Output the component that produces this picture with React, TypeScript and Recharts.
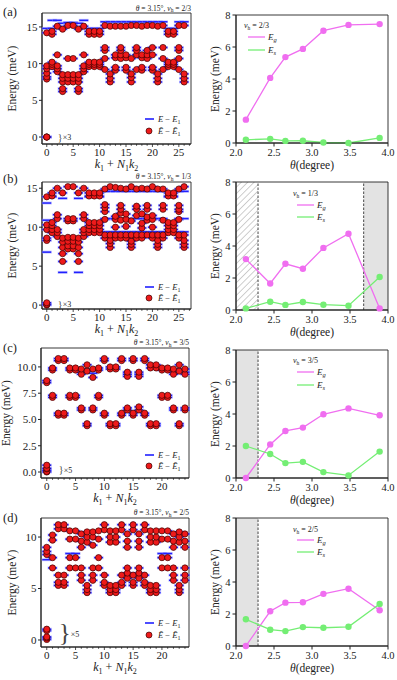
import React from 'react';
import {
  ScatterChart, Scatter, XAxis, YAxis, ReferenceArea, ReferenceDot, ReferenceLine, LineChart, Line,
} from 'recharts';

const FONT = '"Liberation Serif", "DejaVu Serif", serif';
const INK = '#222';
const BLUE = '#2020ff';
const RED = '#ee1a1a';
const MAGENTA = '#f06ef0';
const GREEN = '#74ee74';

// ---------- left column: spectra at theta = 3.15 deg (energies per momentum k1+N1k2) ----------
const specA: number[][] = [
  [0, 0, 0, 7.9, 8.2, 8.7, 9.3, 9.7, 14.2],
  [9.6, 9.9, 10.2, 14.0, 14.4],
  [8.9, 9.3, 9.7, 11.2, 15.1],
  [6.2, 6.6, 7.5, 8.0, 8.5, 14.7],
  [7.5, 8.0, 8.5, 10.7, 15.2],
  [7.5, 8.0, 8.5, 10.7, 15.2],
  [6.2, 6.6, 7.5, 8.0, 8.5, 14.7],
  [8.9, 9.3, 9.7, 11.2, 15.1],
  [9.6, 9.9, 10.2, 14.0, 14.4],
  [9.6, 9.9, 10.2, 14.0, 14.4],
  [9.6, 9.9, 10.2, 14.0, 14.4],
  [9.2, 10.7, 11.8, 12.2, 15.2],
  [7.5, 8.0, 8.6, 15.1],
  [9.1, 9.5, 10.8, 11.2, 15.1],
  [10.7, 11.2, 11.8, 12.2, 15.1],
  [9.1, 9.5, 10.8, 11.2, 15.1],
  [7.5, 8.1, 8.6, 10.7, 15.2],
  [9.2, 11.2, 11.8, 12.2, 15.2],
  [9.1, 9.5, 10.8, 11.2, 15.1],
  [10.7, 11.2, 11.8, 15.2],
  [9.1, 9.5, 11.2, 12.2, 15.2],
  [7.5, 8.0, 8.6, 15.1],
  [9.2, 10.7, 12.2, 15.2],
  [9.6, 9.9, 10.2, 14.0, 14.4],
  [9.6, 9.9, 10.2, 14.0, 14.4],
  [9.2, 10.7, 11.8, 12.2, 15.2],
  [7.5, 8.0, 8.6, 15.2],
];
const specABlueOnly: number[][] = [
  [14.8], [14.8, 15.9], [15.9], [15.5], [15.6], [15.6], [15.5], [15.9], [14.8], [14.8], [14.8],
  [15.7], [15.7], [15.7], [15.7], [15.7], [15.7], [15.7], [15.7], [15.7], [15.7], [15.7], [15.7],
  [14.8], [14.8], [15.7], [15.7],
];

const specB: number[][] = [
  [0, 0.1, 0.3, 8.3, 8.6, 9.7, 10.3, 13.9],
  [9.3, 9.7, 10.2, 10.6, 14.0, 14.4],
  [8.8, 9.3, 9.7, 11.1, 11.6, 15.0],
  [5.6, 6.6, 7.4, 8.1, 8.6, 14.4],
  [7.2, 7.6, 8.2, 8.7, 10.8, 11.1, 15.2],
  [7.2, 7.6, 8.2, 8.7, 10.8, 11.1, 15.2],
  [5.6, 6.6, 7.4, 8.1, 8.6, 14.4],
  [8.8, 9.3, 9.7, 11.1, 11.6, 15.0],
  [9.3, 9.7, 10.2, 10.6, 14.0, 14.4],
  [9.3, 9.7, 10.2, 10.6, 14.0, 14.4],
  [9.3, 9.7, 10.2, 10.6, 14.0, 14.4],
  [8.6, 9.0, 11.0, 12.0, 12.5, 12.9, 14.9],
  [7.4, 7.9, 8.3, 9.0, 15.2],
  [8.6, 9.0, 10.0, 11.0, 11.4, 15.1],
  [8.6, 9.0, 10.9, 11.8, 12.3, 12.8, 15.0],
  [8.6, 9.0, 10.1, 11.0, 11.7, 14.9],
  [7.4, 7.8, 8.2, 9.0, 10.8, 15.2],
  [8.6, 9.0, 11.5, 12.3, 12.7, 14.9],
  [8.6, 9.0, 9.9, 10.5, 11.7, 15.0],
  [9.0, 10.9, 11.3, 12.3, 12.8, 14.9],
  [8.6, 9.0, 10.0, 11.0, 11.5, 15.2],
  [7.4, 7.8, 8.3, 9.0, 14.9],
  [8.6, 9.0, 10.9, 12.3, 12.8, 14.9],
  [9.3, 9.7, 10.2, 10.6, 14.0, 14.4],
  [9.3, 9.7, 10.2, 10.6, 14.0, 14.4],
  [8.6, 9.0, 11.0, 12.0, 12.3, 12.8, 14.9],
  [7.4, 7.8, 8.3, 9.0, 15.2],
];
const specBBlueOnly: number[][] = [
  [6.8, 10.9, 13.1], [13.9], [], [4.2, 13.7], [], [], [4.2, 13.7], [], [13.9], [13.9], [13.9],
  [9.4, 11.1, 14.6], [9.4, 11.1, 14.6], [9.4, 11.1, 14.6], [9.4, 11.1, 14.6], [9.4, 11.1, 14.6],
  [9.4, 11.1, 14.6], [9.4, 11.1, 14.6], [9.4, 11.1, 14.6], [9.4, 11.1, 14.6], [9.4, 11.1, 14.6],
  [9.4, 11.1, 14.6], [9.4, 11.1, 14.6], [13.9], [13.9], [9.4, 11.1, 14.6], [9.4, 11.1, 14.6],
];

const specC: number[][] = [
  [0, 0.05, 0.3, 0.35, 0.65, 8.5, 8.7],
  [7.1, 7.3, 9.7, 9.9],
  [5.4, 5.6, 10.6, 10.8],
  [5.4, 5.6, 10.6, 10.8],
  [7.1, 7.3, 9.7, 9.9],
  [7.1, 7.3, 9.7, 9.9],
  [5.9, 6.1, 9.3, 9.8],
  [4.4, 4.6, 9.6, 10.2],
  [5.9, 6.1, 9.0, 9.8],
  [7.1, 7.3, 9.7, 9.9],
  [5.4, 5.6, 10.6, 10.8],
  [4.4, 4.6, 9.8, 10.0],
  [4.4, 4.6, 9.8, 10.0],
  [5.4, 5.6, 10.6, 10.8],
  [5.9, 6.1, 9.1, 9.5],
  [5.4, 5.6, 10.6, 10.8],
  [5.9, 6.2, 9.1, 9.5],
  [5.4, 5.6, 10.6, 10.8],
  [4.4, 4.6, 9.9, 10.2],
  [4.4, 4.6, 9.9, 10.2],
  [7.1, 7.3, 9.7, 9.9],
  [7.1, 7.3, 9.7, 9.9],
  [5.9, 6.1, 9.3, 9.8],
  [4.4, 4.6, 9.6, 10.2],
  [5.9, 6.1, 9.3, 9.8],
];
const specCBlueOnly: number[][] = [
  [0.15], [], [], [], [], [], [9.5], [], [9.4], [], [], [], [], [], [9.3], [], [9.3], [], [], [], [], [], [9.5], [], [9.5],
];

const specD: number[][] = [
  [0.05, 0.2, 0.3, 0.9, 1.05, 8.3, 8.6, 9.0],
  [7.0, 8.0, 9.7, 10.2],
  [5.3, 5.6, 6.3, 10.8, 11.2],
  [5.3, 5.6, 6.3, 10.8, 11.2],
  [7.0, 8.0, 9.8, 10.6],
  [7.0, 8.0, 9.8, 10.6],
  [5.8, 6.3, 7.0, 9.0, 9.6, 10.3],
  [4.6, 4.9, 5.3, 9.5, 10.0, 10.5],
  [5.8, 6.3, 7.0, 9.2, 10.0, 10.5],
  [7.0, 8.0, 9.8, 10.6],
  [5.3, 5.6, 6.3, 10.7, 11.2],
  [4.6, 4.9, 5.3, 9.5, 10.0, 10.6],
  [4.6, 4.9, 5.3, 9.5, 10.0, 10.6],
  [5.3, 5.6, 6.3, 10.7, 11.2],
  [6.0, 6.5, 7.0, 9.0, 9.6, 10.3],
  [5.3, 5.6, 6.3, 10.7, 11.2],
  [6.0, 6.5, 7.0, 9.0, 9.6, 10.3],
  [5.3, 5.6, 6.3, 10.7, 11.2],
  [4.6, 4.9, 5.3, 9.5, 10.0, 10.6],
  [4.6, 4.9, 5.3, 9.5, 10.0, 10.6],
  [7.0, 8.0, 9.8, 10.6],
  [7.0, 8.0, 9.8, 10.6],
  [5.8, 6.3, 7.0, 9.0, 9.6, 10.3],
  [4.6, 4.9, 5.3, 9.5, 10.0, 10.5],
  [5.8, 6.3, 7.0, 9.0, 9.6, 10.3],
];
const specDBlueOnly: number[][] = [
  [7.8], [], [], [], [8.4], [8.4], [], [], [], [], [], [], [], [], [], [], [], [], [], [], [8.4], [8.4], [], [], [],
];

// ---------- right column: gaps versus twist angle ----------
const thetaDeg = [2.13, 2.45, 2.65, 2.88, 3.15, 3.48, 3.89];
const egA = [1.46, 4.07, 5.37, 5.88, 7.02, 7.38, 7.43];
const esA = [0.2, 0.26, 0.13, 0.14, 0.03, 0.0, 0.32];
const egB = [3.18, 1.66, 2.89, 2.58, 3.88, 4.77, 0.1];
const esB = [0.1, 0.52, 0.32, 0.5, 0.33, 0.27, 2.06];
const egC = [0.0, 2.1, 2.94, 3.15, 3.98, 4.35, 3.92];
const esC = [2.0, 1.5, 0.93, 1.01, 0.37, 0.16, 1.65];
const egD = [0.0, 2.17, 2.71, 2.73, 3.26, 3.58, 2.23];
const esD = [1.67, 1.02, 0.93, 1.18, 1.14, 1.2, 2.63];

const thetaTicks = [2, 2.5, 3, 3.5, 4];
const gapTicks = [0, 2, 4, 6, 8];

type Pt = { k: number; e: number };
const flatten = (lv: number[][]): Pt[] => {
  const out: Pt[] = [];
  lv.forEach((arr, k) => arr.forEach((e) => out.push({ k, e })));
  return out;
};

const Dash = (p: any) => (
  <g>
    <line x1={p.cx - 5} x2={p.cx + 5} y1={p.cy} y2={p.cy} stroke="#9a9aff" strokeWidth={3} strokeOpacity={0.55} />
    <line x1={p.cx - 4.5} x2={p.cx + 4.5} y1={p.cy} y2={p.cy} stroke={BLUE} strokeWidth={1.5} />
  </g>
);
const Dot = (p: any) => (
  <circle cx={p.cx} cy={p.cy} r={3.1} fill={RED} stroke="#3a0000" strokeWidth={0.7} />
);

const makeKTick = (every: number) => (p: any) => {
  const v = p.payload.value;
  const major = v % every === 0;
  return (
    <g>
      <line x1={p.x} x2={p.x} y1={p.y} y2={p.y + (major ? 3 : 1.8)} stroke={INK} strokeWidth={0.8} />
      {major ? (
        <text x={p.x} y={p.y + 12} textAnchor="middle" fontSize={11} fontFamily={FONT} fill={INK}>{v}</text>
      ) : null}
    </g>
  );
};

const kLabel = (props: any) => {
  const vb = props.viewBox;
  const x = vb.x + vb.width / 2;
  const y = vb.y + 24;
  return (
    <text x={x} y={y} textAnchor="middle" fontFamily={FONT} fontSize={12} fill={INK}>
      <tspan fontStyle="italic">k</tspan>
      <tspan fontSize={8} dy={2.5}>1</tspan>
      <tspan dy={-2.5}> + </tspan>
      <tspan fontStyle="italic">N</tspan>
      <tspan fontSize={8} dy={2.5}>1</tspan>
      <tspan fontStyle="italic" dy={-2.5}>k</tspan>
      <tspan fontSize={8} dy={2.5}>2</tspan>
    </text>
  );
};

const thetaLabel = (props: any) => {
  const vb = props.viewBox;
  const x = vb.x + vb.width / 2;
  const y = vb.y + 25.5;
  return (
    <text x={x} y={y} textAnchor="middle" fontFamily={FONT} fontSize={11.5} fill={INK}>
      <tspan fontStyle="italic">θ</tspan>
      <tspan>(degree)</tspan>
    </text>
  );
};

const energyLabel = (cx: number) => (props: any) => {
  const vb = props.viewBox;
  const x = vb.x + cx;
  const y = vb.y + vb.height / 2;
  return (
    <text x={x} y={y} transform={`rotate(-90 ${x} ${y})`} textAnchor="middle" dominantBaseline="central"
      fontFamily={FONT} fontSize={11.5} fill={INK}>
      Energy (meV)
    </text>
  );
};

const makeAnnot = (mult: string, tall: boolean) => (p: any) => (
  <g>
    <text x={p.cx} y={p.cy + (tall ? 7 : 3.5)} fontSize={tall ? 25 : 10} fontFamily={FONT} fill="#444">{'}'}</text>
    <text x={p.cx + (tall ? 12 : 5)} y={p.cy + 3} fontSize={8} fontFamily={FONT} fill={INK}>{'×' + mult}</text>
  </g>
);

type SpecProps = {
  y0: number; y1: number; x0: number; x1: number;
  xDomain: [number, number]; yDomain: [number, number];
  yTicks: number[]; yFmt: (v: number) => string;
  levels: number[][]; blueOnly: number[][];
  yLabelX: number; mult: string; tall: boolean; braceK: number; braceE: number;
};

function SpectrumPanel(p: SpecProps) {
  const H = p.y1 - p.y0 + 10 + 38;
  const red = flatten(p.levels);
  const blue = [...red, ...flatten(p.blueOnly)];
  const kTicks: number[] = [];
  for (let i = 0; i <= Math.floor(p.xDomain[1]); i++) kTicks.push(i);
  return (
    <div style={{ position: 'absolute', left: 0, top: p.y0 - 10, width: 200, height: H }}>
      <ScatterChart width={200} height={H} margin={{ top: 10, right: 200 - p.x1, bottom: 0, left: 0 }}>
        <XAxis type="number" dataKey="k" domain={p.xDomain} ticks={kTicks} interval={0}
          tickSize={0} tickMargin={0} tickLine={false} tick={makeKTick(5)}
          axisLine={{ stroke: INK }} height={38} label={kLabel} />
        <YAxis type="number" dataKey="e" domain={p.yDomain} ticks={p.yTicks} interval={0}
          tickFormatter={p.yFmt} width={p.x0} tickSize={3} tickMargin={1.5}
          tick={{ fontSize: 11, fontFamily: FONT, fill: INK }} axisLine={{ stroke: INK }}
          tickLine={{ stroke: INK }} label={energyLabel(p.yLabelX)} />
        <Scatter data={blue} shape={Dash} isAnimationActive={false} />
        <Scatter data={red} shape={Dot} isAnimationActive={false} />
        <ReferenceDot x={p.braceK} y={p.braceE} r={0} shape={makeAnnot(p.mult, p.tall)} />
        <ReferenceArea x1={p.xDomain[0]} x2={p.xDomain[1]} y1={p.yDomain[0]} y2={p.yDomain[1]}
          fill="none" fillOpacity={0} stroke={INK} strokeWidth={0.9} />
      </ScatterChart>
    </div>
  );
}

type Shade = { x1: number; x2: number; hatch: boolean };
type GapProps = { y0: number; y1: number; eg: number[]; es: number[]; shades: Shade[]; cuts: number[] };

function GapPanel(p: GapProps) {
  const H = p.y1 - p.y0 + 10 + 38;
  const data = thetaDeg.map((t, i) => ({ theta: t, eg: p.eg[i], es: p.es[i] }));
  return (
    <div style={{ position: 'absolute', left: 200, top: p.y0 - 10, width: 197, height: H }}>
      <LineChart width={197} height={H} data={data} margin={{ top: 10, right: 9, bottom: 0, left: 0 }}>
        {p.shades.map((s, i) => (
          <ReferenceArea key={'s' + i} x1={s.x1} x2={s.x2} y1={0} y2={8}
            fill={s.hatch ? 'url(#hatch)' : '#e3e3e3'} fillOpacity={1} stroke="none" />
        ))}
        {p.cuts.map((c, i) => (
          <ReferenceLine key={'c' + i} x={c} stroke="#333" strokeDasharray="2.5 1.5" strokeWidth={0.9} />
        ))}
        <XAxis type="number" dataKey="theta" domain={[2, 4]} ticks={thetaTicks} interval={0}
          tickFormatter={(v: number) => v.toFixed(1)} height={38} tickSize={3.5} tickMargin={2.5}
          tick={{ fontSize: 10.5, fontFamily: FONT, fill: INK }} axisLine={{ stroke: INK }}
          tickLine={{ stroke: INK }} label={thetaLabel} />
        <YAxis type="number" domain={[0, 8]} ticks={gapTicks} interval={0} width={36}
          tickSize={3.5} tickMargin={2} tick={{ fontSize: 10.5, fontFamily: FONT, fill: INK }}
          axisLine={{ stroke: INK }} tickLine={{ stroke: INK }} label={energyLabel(15)} />
        <Line type="linear" dataKey="eg" stroke={MAGENTA} strokeWidth={1.3}
          dot={{ r: 3.2, fill: MAGENTA, stroke: MAGENTA, strokeWidth: 0 }} isAnimationActive={false} />
        <Line type="linear" dataKey="es" stroke={GREEN} strokeWidth={1.3}
          dot={{ r: 3.2, fill: GREEN, stroke: GREEN, strokeWidth: 0 }} isAnimationActive={false} />
        <ReferenceArea x1={2} x2={4} y1={0} y2={8} fill="none" fillOpacity={0} stroke={INK} strokeWidth={0.9} />
      </LineChart>
    </div>
  );
}

const T = { fontFamily: FONT, fill: INK } as const;

function Title({ x, y, nu }: { x: number; y: number; nu: string }) {
  return (
    <text x={x} y={y} textAnchor="end" fontSize={7.5} {...T}>
      <tspan fontStyle="italic">θ</tspan>
      <tspan> = 3.15°, </tspan>
      <tspan fontStyle="italic">ν</tspan>
      <tspan fontSize={5.5} dy={1.5}>h</tspan>
      <tspan dy={-1.5}>{' = ' + nu}</tspan>
    </text>
  );
}

function LeftLegend({ yb, yr }: { yb: number; yr: number }) {
  return (
    <g>
      <line x1={145} x2={154} y1={yb} y2={yb} stroke={BLUE} strokeWidth={1.6} />
      <text x={158} y={yb + 3} fontSize={8.5} {...T}>
        <tspan fontStyle="italic">E</tspan>
        <tspan> − </tspan>
        <tspan fontStyle="italic">E</tspan>
        <tspan fontSize={6} dy={1.5}>1</tspan>
      </text>
      <circle cx={149} cy={yr} r={3} fill={RED} stroke="#3a0000" strokeWidth={0.7} />
      <text x={158} y={yr + 3} fontSize={8.5} {...T}>
        <tspan fontStyle="italic">Ẽ</tspan>
        <tspan> − </tspan>
        <tspan fontStyle="italic">Ẽ</tspan>
        <tspan fontSize={6} dy={1.5}>1</tspan>
      </text>
    </g>
  );
}

function RightLegend({ x, yn, yg, ys, nu }: { x: number; yn: number; yg: number; ys: number; nu: string }) {
  return (
    <g>
      <text x={x - 4} y={yn + 3} fontSize={8} {...T}>
        <tspan fontStyle="italic">ν</tspan>
        <tspan fontSize={5.5} dy={1.5}>h</tspan>
        <tspan dy={-1.5}>{' = ' + nu}</tspan>
      </text>
      <line x1={x} x2={x + 17} y1={yg} y2={yg} stroke={MAGENTA} strokeWidth={1.3} />
      <text x={x + 20} y={yg + 3} fontSize={9} {...T}>
        <tspan fontStyle="italic">E</tspan>
        <tspan fontSize={6.5} fontStyle="italic" dy={2}>g</tspan>
      </text>
      <line x1={x} x2={x + 17} y1={ys} y2={ys} stroke={GREEN} strokeWidth={1.3} />
      <text x={x + 20} y={ys + 3} fontSize={9} {...T}>
        <tspan fontStyle="italic">E</tspan>
        <tspan fontSize={6.5} fontStyle="italic" dy={2}>s</tspan>
      </text>
    </g>
  );
}

const int0 = (v: number) => String(v);
const fix1 = (v: number) => v.toFixed(1);

export default function App() {
  return (
    <div style={{ position: 'absolute', left: 0, top: 0, width: 397, height: 680, background: '#fff', overflow: 'hidden' }}>
      <svg width={0} height={0} style={{ position: 'absolute' }}>
        <defs>
          <pattern id="hatch" patternUnits="userSpaceOnUse" width={4.5} height={4.5} patternTransform="rotate(45)">
            <rect width={4.5} height={4.5} fill="#fff" />
            <line x1={0} y1={0} x2={0} y2={4.5} stroke="#a8a8a8" strokeWidth={1.1} />
          </pattern>
        </defs>
      </svg>

      <SpectrumPanel y0={13} y1={144} x0={42} x1={191} xDomain={[-0.9, 27.3]} yDomain={[-0.95, 16.9]}
        yTicks={[0, 5, 10, 15]} yFmt={int0} levels={specA} blueOnly={specABlueOnly}
        yLabelX={12} mult="3" tall={false} braceK={2.1} braceE={0} />
      <SpectrumPanel y0={182} y1={309} x0={42} x1={191} xDomain={[-0.9, 27.3]} yDomain={[-0.5, 15.8]}
        yTicks={[0, 5, 10, 15]} yFmt={int0} levels={specB} blueOnly={specBBlueOnly}
        yLabelX={12} mult="3" tall={false} braceK={2.1} braceE={0.1} />
      <SpectrumPanel y0={348} y1={478} x0={41} x1={189} xDomain={[-1, 24.7]} yDomain={[-0.57, 11.8]}
        yTicks={[0, 2.5, 5, 7.5, 10]} yFmt={fix1} levels={specC} blueOnly={specCBlueOnly}
        yLabelX={6} mult="5" tall={false} braceK={2.1} braceE={0.2} />
      <SpectrumPanel y0={518} y1={647} x0={41} x1={189} xDomain={[-1, 24.7]} yDomain={[-0.68, 11.85]}
        yTicks={[0, 5, 10]} yFmt={int0} levels={specD} blueOnly={specDBlueOnly}
        yLabelX={12} mult="5" tall={true} braceK={2.1} braceE={0.6} />

      <GapPanel y0={15} y1={143} eg={egA} es={esA} shades={[]} cuts={[]} />
      <GapPanel y0={182} y1={310} eg={egB} es={esB}
        shades={[{ x1: 2, x2: 2.29, hatch: true }, { x1: 3.68, x2: 4, hatch: false }]} cuts={[2.29, 3.68]} />
      <GapPanel y0={350} y1={478} eg={egC} es={esC} shades={[{ x1: 2, x2: 2.29, hatch: false }]} cuts={[2.29]} />
      <GapPanel y0={518} y1={646} eg={egD} es={esD} shades={[{ x1: 2, x2: 2.29, hatch: false }]} cuts={[2.29]} />

      <svg width={397} height={680} style={{ position: 'absolute', left: 0, top: 0, pointerEvents: 'none' }}>
        <text x={3} y={16} fontSize={12.5} {...T}>(a)</text>
        <text x={3} y={183} fontSize={12.5} {...T}>(b)</text>
        <text x={3} y={352} fontSize={12.5} {...T}>(c)</text>
        <text x={3} y={522} fontSize={12.5} {...T}>(d)</text>

        <Title x={191} y={10.5} nu="2/3" />
        <Title x={191} y={179} nu="1/3" />
        <Title x={189} y={345} nu="3/5" />
        <Title x={189} y={515} nu="2/5" />

        <LeftLegend yb={119} yr={131} />
        <LeftLegend yb={287} yr={298} />
        <LeftLegend yb={455} yr={466} />
        <LeftLegend yb={623} yr={635} />

        <RightLegend x={248} yn={25} yg={37} ys={50} nu="2/3" />
        <RightLegend x={297} yn={193} yg={205} ys={217} nu="1/3" />
        <RightLegend x={297} yn={360} yg={372} ys={385} nu="3/5" />
        <RightLegend x={297} yn={529} yg={540} ys={552} nu="2/5" />
      </svg>
    </div>
  );
}
